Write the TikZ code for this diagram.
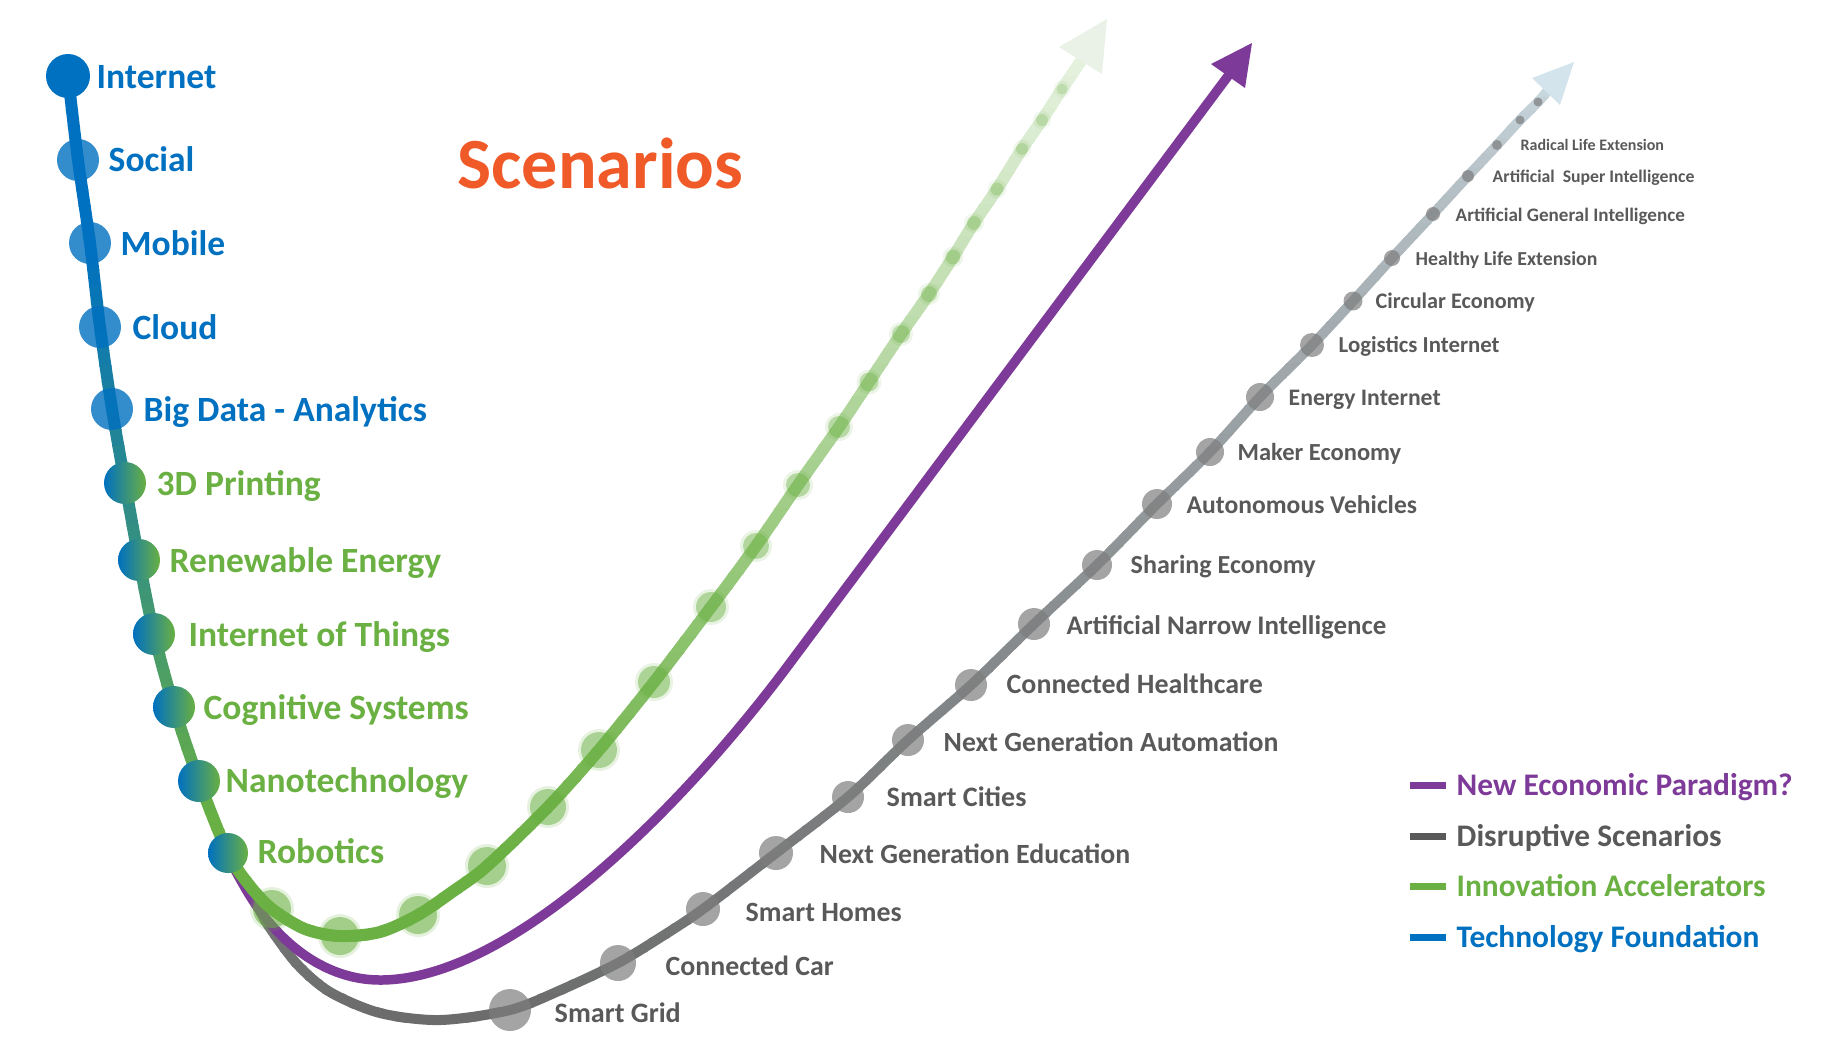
\documentclass[tikz,border=0pt]{standalone}
\usepackage{fontspec}
\setmainfont{Carlito}
\definecolor{tfblue}{RGB}{0,112,192}
\definecolor{iagreen}{RGB}{106,176,66}
\definecolor{nppurple}{RGB}{125,58,152}
\definecolor{dsgray}{RGB}{89,89,89}
\definecolor{linegray}{RGB}{108,108,108}
\definecolor{lightblue}{RGB}{212,228,236}
\definecolor{dotgray}{RGB}{125,125,125}
\definecolor{scorange}{RGB}{240,90,40}
\definecolor{greentip}{RGB}{234,242,231}
\begin{document}
\begin{tikzpicture}[x=0.01cm, y=-0.01cm,
  lab/.style={anchor=base west, inner sep=0pt, font=\bfseries\fontsize{#1pt}{#1pt}\selectfont},
  grayline/.style={line width=2.85pt},
  purpleline/.style={line width=2.7pt, nppurple},
  greenline/.style={line width=3.41pt},
  gdot/.style={circle, inner sep=0pt, minimum size=2*#1*0.01cm, fill=dotgray, fill opacity=0.7},
  gndot/.style={circle, inner sep=0pt, minimum size=2*#1*0.01cm, fill=iagreen},
  tfdot/.style={circle, inner sep=0pt, minimum size=2*#1*0.01cm, fill=tfblue, fill opacity=0.8},
  iadot/.style={circle, inner sep=0pt, minimum size=2*#1*0.01cm, left color=tfblue, right color=iagreen},
  legline/.style={line width=2pt}]
\useasboundingbox (0,0) rectangle (1830,1050);

% ---------- coordinates ----------
\foreach \n/\x/\y in {t1/68/76, t2/78/160, t3/90/243, t4/100/327, t5/112/409, t6/125/483,
  t7/139/560, t8/154/634, t9/174/707, t10/199/781, t11/228/853,
  ga/250/886, g1/272/909, gb/305/929, g2/340/936, gc/380/932, g3/418/915, gd/452/892,
  g4/487/866, g5/548/807, g6/599/750, g7/654/682, g8/711/607, g9/756/546, g10/798/485,
  g11/839/427, g12/869/382, g13/901/334, g14/929/294, g15/953/257, g16/974/223,
  g17/997/189, g18/1022/149, g19/1042/120, g20/1062/89, gend/1085/55,
  gtip/1107/19, gca/1059/47, gcb/1102/74,
  pq1/262/935, pq2/320/980, pmin/380/980, pq3/510/980, pq4/679/811, pmid/787/667,
  pend/1234/68, ptip/1252/43, pca/1211/64, pcb/1245/88,
  p0/237/873, p1/254/900,
  sa/268/925, sb/297/964, sc/330/992, sd/380/1013, se/440/1020,
  s1/510/1010, s1b/563/989, s2/618/963, s2b/661/937, s3/703/909, s4/776/853,
  s5/848/797, s6/908/740, s7/971/685, s8/1034/624, s9/1097/565, s10/1157/504,
  s11/1210/452, s12/1260/397, s13/1312/345, s14/1353/301, s15/1392/258,
  s16/1433/214, s17/1468/176, s18/1497/145, s19/1520/120, s20/1538/102,
  send/1550/88, stip/1574/62, sca/1532/78, scb/1560/105}
  \coordinate (\n) at (\x,\y);

\def\greenpath{plot[smooth] coordinates {(t1) (t2) (t3) (t4) (t5) (t6) (t7) (t8) (t9) (t10) (t11)
  (ga) (g1) (gb) (g2) (gc) (g3) (gd) (g4) (g5) (g6) (g7) (g8) (g9) (g10) (g11) (g12) (g13)
  (g14) (g15) (g16) (g17) (g18) (g19) (g20) (gend)}}
\def\purplepath{plot[smooth] coordinates {(t6) (t7) (t8) (t9) (t10) (t11)}
  .. controls (pq1) and (pq2) .. (pmin) .. controls (pq3) and (pq4) .. (pmid) -- (pend)}
\def\graypath{plot[smooth] coordinates {(t6) (t7) (t8) (t9) (t10) (t11) (p0) (p1) (sa) (sb)
  (sc) (sd) (se) (s1) (s1b) (s2) (s2b) (s3) (s4) (s5) (s6) (s7) (s8) (s9) (s10) (s11) (s12)
  (s13) (s14) (s15) (s16) (s17) (s18) (s19) (s20) (send)}}

% ---------- gray line (dark at bottom, light blue at top) ----------
\foreach \i in {0,...,69} {
  \pgfmathsetmacro\ya{55+14*\i}
  \pgfmathsetmacro\yb{\ya+15}
  \pgfmathsetmacro\ym{\ya+7}
  \pgfmathsetmacro\f{100*(max(min((\ym-62)/958,1),0.001))^0.6}
  \begin{scope}
    \clip (0,\ya) rectangle (1830,\yb);
    \draw[grayline, color=linegray!\f!lightblue] \graypath;
  \end{scope}
}
\fill[lightblue] (stip) -- (sca) -- (scb) -- cycle;

% gray dots
\foreach \n/\r in {s1/21, s2/18, s3/17, s4/17, s5/16, s6/16, s7/16, s8/16, s9/15, s10/15,
  s11/14, s12/14, s13/12, s14/9.5, s15/8, s16/7, s17/6, s18/5, s19/4.5, s20/4.5}
  \node[gdot=\r] (d\n) at (\n) {};

% ---------- purple line ----------
\draw[purpleline] \purplepath;
\fill[nppurple] (ptip) -- (pca) -- (pcb) -- cycle;

% ---------- green branch (fading upwards) ----------
\foreach \i in {0,...,58} {
  \pgfmathsetmacro\ya{12+16*\i}
  \pgfmathsetmacro\yb{\ya+17}
  \pgfmathsetmacro\ym{\ya+8}
  \pgfmathsetmacro\f{100*max(min(0.13+0.87*(\ym-20)/840,1),0.1)}
  \begin{scope}
    \clip (235,\ya) rectangle (1830,\yb);
    \draw[greenline, color=iagreen!\f!white] \greenpath;
  \end{scope}
}
\fill[greentip] (gtip) -- (gca) -- (gcb) -- cycle;

% ---------- trunk (blue to green) ----------
\foreach \i in {0,...,54} {
  \pgfmathsetmacro\ya{45+16*\i}
  \pgfmathsetmacro\yb{\ya+17}
  \pgfmathsetmacro\ym{\ya+8}
  \pgfmathsetmacro\f{100*max(min((\ym-250)/580,1),0)}
  \begin{scope}
    \clip (0,\ya) rectangle (235,\yb);
    \draw[greenline, color=iagreen!\f!tfblue] \greenpath;
  \end{scope}
}

% green dots (soft edge)
\foreach \n/\r/\o in {g1/19/0.6, g2/19/0.6, g3/19/0.6, g4/19/0.58, g5/18/0.56, g6/18/0.54,
  g7/16/0.52, g8/15/0.5, g9/13/0.48, g10/12/0.46, g11/11/0.44, g12/9.5/0.42, g13/9/0.4,
  g14/8/0.38, g15/7.5/0.36, g16/7/0.34, g17/6.5/0.32, g18/6/0.3, g19/6/0.28, g20/5.5/0.26} {
  \pgfmathsetmacro\oh{\o*0.3}
  \pgfmathsetmacro\rh{\r+3}
  \pgfmathsetmacro\od{\o*0.9}
  \fill[iagreen, opacity=\oh] (\n) circle[radius=\rh];
  \node[gndot=\r, fill opacity=\od] (d\n) at (\n) {};
}

% trunk dots
\node[tfdot=22, fill opacity=1] (dInternet) at (t1) {};
\node[tfdot=21] (dSocial) at (t2) {};
\node[tfdot=21] (dMobile) at (t3) {};
\node[tfdot=21] (dCloud) at (t4) {};
\node[tfdot=21] (dBigData) at (t5) {};
\node[iadot=21] (d3D) at (t6) {};
\node[iadot=21] (dRenew) at (t7) {};
\node[iadot=21] (dIoT) at (t8) {};
\node[iadot=21] (dCog) at (t9) {};
\node[iadot=21] (dNano) at (t10) {};
\node[iadot=20] (dRobot) at (t11) {};

% ---------- left labels ----------
\node[lab=10.1, text=tfblue] (lInternet) at (96,88) {Internet};
\node[lab=10.1, text=tfblue] (lSocial) at (108,171) {Social};
\node[lab=10.1, text=tfblue] (lMobile) at (120,255) {Mobile};
\node[lab=10.1, text=tfblue] (lCloud) at (132,339) {Cloud};
\node[lab=10.1, text=tfblue] (lBigData) at (143,421) {Big Data - Analytics};
\node[lab=10.1, text=iagreen] (l3D) at (156,495) {3D Printing};
\node[lab=10.1, text=iagreen] (lRenew) at (169,572) {Renewable Energy};
\node[lab=10.1, text=iagreen] (lIoT) at (188,646) {Internet of Things};
\node[lab=10.1, text=iagreen] (lCog) at (203,719) {Cognitive Systems};
\node[lab=10.1, text=iagreen] (lNano) at (225,792) {Nanotechnology};
\node[lab=10.1, text=iagreen] (lRobot) at (257,863) {Robotics};

% ---------- title ----------
\node[lab=20.5, text=scorange] (title) at (457,188) {Scenarios};

% ---------- gray labels ----------
\node[lab=8.0, text=dsgray] (lSG) at (554,1022) {Smart Grid};
\node[lab=7.91, text=dsgray] (lCC) at (665,975) {Connected Car};
\node[lab=7.94, text=dsgray] (lSH) at (745,921) {Smart Homes};
\node[lab=7.91, text=dsgray] (lNGE) at (819,863) {Next Generation Education};
\node[lab=8.0, text=dsgray] (lSC) at (886,806) {Smart Cities};
\node[lab=7.91, text=dsgray] (lNGA) at (943,751) {Next Generation Automation};
\node[lab=7.94, text=dsgray] (lCH) at (1006,693) {Connected Healthcare};
\node[lab=7.65, text=dsgray] (lANI) at (1066,634.5) {Artificial Narrow Intelligence};
\node[lab=7.40, text=dsgray] (lSE) at (1130,573) {Sharing Economy};
\node[lab=7.28, text=dsgray] (lAV) at (1186,513) {Autonomous Vehicles};
\node[lab=6.97, text=dsgray] (lME) at (1237,460) {Maker Economy};
\node[lab=6.74, text=dsgray] (lEI) at (1288,405.5) {Energy Internet};
\node[lab=6.49, text=dsgray] (lLI) at (1338,352) {Logistics Internet};
\node[lab=6.32, text=dsgray] (lCE) at (1375,308) {Circular Economy};
\node[lab=5.63, text=dsgray] (lHLE) at (1415,265) {Healthy Life Extension};
\node[lab=5.43, text=dsgray] (lAGI) at (1455,221) {Artificial General Intelligence};
\node[lab=5.04, text=dsgray] (lASI) at (1492,182.6) {Artificial\hspace{0.45em}Super Intelligence};
\node[lab=4.55, text=dsgray] (lRLE) at (1520,150) {Radical Life Extension};

% ---------- legend ----------
\coordinate (la1) at (1410,785); \coordinate (lb1) at (1446,785);
\coordinate (la2) at (1410,836); \coordinate (lb2) at (1446,836);
\coordinate (la3) at (1410,886); \coordinate (lb3) at (1446,886);
\coordinate (la4) at (1410,937); \coordinate (lb4) at (1446,937);
\draw[legline, nppurple] (la1) -- (lb1);
\draw[legline, dsgray] (la2) -- (lb2);
\draw[legline, iagreen] (la3) -- (lb3);
\draw[legline, tfblue] (la4) -- (lb4);
\node[lab=8.93, text=nppurple] (lgNEP) at (1456,795) {New Economic Paradigm?};
\node[lab=8.93, text=dsgray] (lgDS) at (1456,846) {Disruptive Scenarios};
\node[lab=8.93, text=iagreen] (lgIA) at (1456,896) {Innovation Accelerators};
\node[lab=8.93, text=tfblue] (lgTF) at (1456,947) {Technology Foundation};
\end{tikzpicture}
\end{document}
